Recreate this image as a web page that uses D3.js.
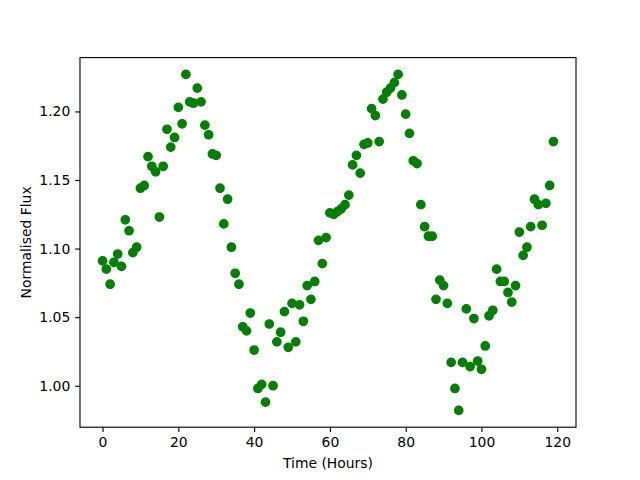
<!DOCTYPE html>
<html>
<head>
<meta charset="utf-8">
<script src="https://cdn.jsdelivr.net/npm/d3@7"></script>
<style>
  body { margin: 0; background: #fff; }
  text { font-family: "DejaVu Sans", sans-serif; fill: #000; }
</style>
</head>
<body>
<svg id="chart" width="640" height="480"></svg>
<script>
// Data

const hours = [
  0, 1, 2, 3, 4, 5, 6, 7, 8, 9,
  10, 11, 12, 13, 14, 15, 16, 17, 18, 19,
  20, 21, 22, 23, 24, 25, 26, 27, 28, 29,
  30, 31, 32, 33, 34, 35, 36, 37, 38, 39,
  40, 41, 42, 43, 44, 45, 46, 47, 48, 49,
  50, 51, 52, 53, 54, 55, 56, 57, 58, 59,
  60, 61, 62, 63, 64, 65, 66, 67, 68, 69,
  70, 71, 72, 73, 74, 75, 76, 77, 78, 79,
  80, 81, 82, 83, 84, 85, 86, 87, 88, 89,
  90, 91, 92, 93, 94, 95, 96, 97, 98, 99,
  100, 101, 102, 103, 104, 105, 106, 107, 108, 109,
  110, 111, 112, 113, 114, 115, 116, 117, 118, 119
];

const flux = [
  1.091, 1.085, 1.074, 1.090, 1.096, 1.087, 1.121, 1.113, 1.097, 1.101,
  1.144, 1.146, 1.167, 1.160, 1.156, 1.123, 1.160, 1.187, 1.174, 1.181,
  1.203, 1.191, 1.227, 1.207, 1.206, 1.217, 1.207, 1.190, 1.183, 1.169,
  1.168, 1.144, 1.118, 1.136, 1.101, 1.082, 1.074, 1.043, 1.040, 1.053,
  1.026, 0.998, 1.001, 0.988, 1.045, 1.000, 1.032, 1.039, 1.054, 1.028,
  1.060, 1.032, 1.059, 1.047, 1.073, 1.063, 1.076, 1.106, 1.089, 1.108,
  1.126, 1.125, 1.127, 1.129, 1.132, 1.139, 1.161, 1.168, 1.155, 1.176,
  1.177, 1.202, 1.197, 1.178, 1.209, 1.214, 1.217, 1.221, 1.227, 1.212,
  1.198, 1.184, 1.164, 1.162, 1.132, 1.116, 1.109, 1.109, 1.063, 1.077,
  1.073, 1.060, 1.017, 0.998, 0.982, 1.017, 1.056, 1.014, 1.049, 1.018,
  1.012, 1.029, 1.051, 1.055, 1.085, 1.076, 1.076, 1.068, 1.061, 1.073,
  1.112, 1.095, 1.101, 1.116, 1.136, 1.132, 1.117, 1.133, 1.146, 1.178
];

const xTicks = [0, 20, 40, 60, 80, 100, 120];
const yTicks = [1.00, 1.05, 1.10, 1.15, 1.20];

// layout (matplotlib default axes box)
const axLeft = 80, axRight = 576, axTop = 57.6, axBottom = 427.2;
const pt = 100 / 72;

const svg = d3.select("#chart");

// matplotlib style 5% margins
const pad = function(ext) {
    const m = (ext[1] - ext[0]) * 0.05;
    return [ext[0] - m, ext[1] + m];
};

const x = d3.scaleLinear()
    .domain(pad(d3.extent(hours)))
    .range([axLeft, axRight]);

const y = d3.scaleLinear()
    .domain(pad(d3.extent(flux)))
    .range([axBottom, axTop]);

// axes
const xAxis = d3.axisBottom(x)
    .tickValues(xTicks)
    .tickFormat(d3.format("d"))
    .tickSize(3.5 * pt)
    .tickPadding(3.5 * pt);

const yAxis = d3.axisLeft(y)
    .tickValues(yTicks)
    .tickFormat(d3.format(".2f"))
    .tickSize(3.5 * pt)
    .tickPadding(3.5 * pt);

const gx = svg.append("g")
    .attr("transform", "translate(0," + axBottom + ")")
    .call(xAxis);

const gy = svg.append("g")
    .attr("transform", "translate(" + axLeft + ",0)")
    .call(yAxis);

[gx, gy].forEach(function(g) {
    g.select(".domain").remove();
    g.selectAll(".tick line").attr("stroke", "#000").attr("stroke-width", 0.8 * pt);
    g.selectAll(".tick text")
        .style("font-family", "'DejaVu Sans', sans-serif")
        .style("font-size", "13.9px");
});

// points
svg.append("g")
    .selectAll("circle")
    .data(hours)
    .enter()
    .append("circle")
    .attr("cx", function(d) { return x(d); })
    .attr("cy", function(d, i) { return y(flux[i]); })
    .attr("r", 3 * pt)
    .attr("fill", "#008000")
    .attr("stroke", "#008000")
    .attr("stroke-width", 1 * pt);

// frame
svg.append("rect")
    .attr("x", axLeft)
    .attr("y", axTop)
    .attr("width", axRight - axLeft)
    .attr("height", axBottom - axTop)
    .attr("fill", "none")
    .attr("stroke", "#000")
    .attr("stroke-width", 0.8 * pt);

// labels
svg.append("text")
    .attr("x", (axLeft + axRight) / 2)
    .attr("y", 468)
    .attr("text-anchor", "middle")
    .style("font-size", "13.9px")
    .text("Time (Hours)");

svg.append("text")
    .attr("transform", "translate(31," + (axTop + axBottom) / 2 + ") rotate(-90)")
    .attr("text-anchor", "middle")
    .style("font-size", "13.9px")
    .text("Normalised Flux");
</script>
</body>
</html>
